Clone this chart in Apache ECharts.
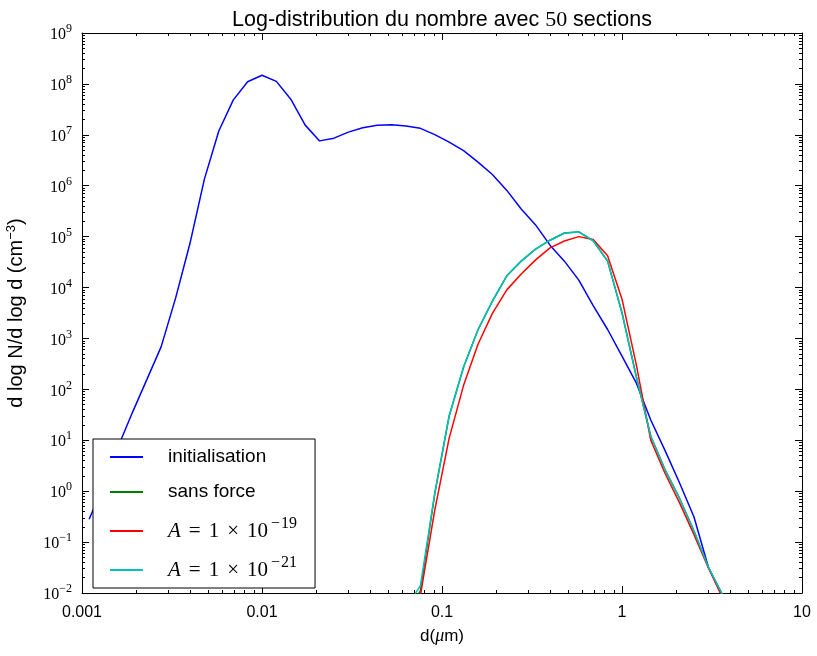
<!DOCTYPE html>
<html>
<head>
<meta charset="utf-8">
<script src="https://cdn.jsdelivr.net/npm/echarts@6/dist/echarts.min.js"></script>
<style>
  html, body { margin: 0; padding: 0; background: #fff; }
  #chart { width: 817px; height: 656px; }
</style>
</head>
<body>
<div id="chart"></div>
<script>
// diametre (um) au centre de chacune des 50 sections
const diam = [
  0.001096, 0.001318, 0.001585, 0.001905, 0.002291, 0.002754, 0.003311, 0.003981, 0.004786, 0.005754,
  0.006918, 0.008318, 0.01, 0.01202, 0.01445, 0.01738, 0.02089, 0.02512, 0.0302, 0.03631,
  0.04365, 0.05248, 0.0631, 0.07586, 0.0912, 0.1096, 0.1318, 0.1585, 0.1905, 0.2291,
  0.2754, 0.3311, 0.3981, 0.4786, 0.5754, 0.6918, 0.8318, 1, 1.202, 1.445,
  1.738, 2.089, 2.512, 3.02, 3.631, 4.365, 5.248, 6.31, 7.586, 9.12
]

const initialisation = [
  0.28, 1.3, 7.4, 35, 155, 690, 6200, 7.4e4, 1.35e6, 1.19e7,
  4.8e7, 1.1e8, 1.48e8, 1.12e8, 5.0e7, 1.55e7, 7.6e6, 8.6e6, 1.13e7, 1.38e7,
  1.54e7, 1.58e7, 1.49e7, 1.34e7, 1.01e7, 7.2e6, 4.9e6, 2.9e6, 1.66e6, 8.1e5,
  3.5e5, 1.7e5, 6.8e4, 3.3e4, 1.4e4, 4400, 1500, 450, 132, 25,
  6.2, 1.45, 0.31, 0.032, 0.008, null, null, null, null, null
]

const sansForce = [
  null, null, null, null, null, null, null, null, null, null,
  null, null, null, null, null, null, null, null, null, null,
  null, null, 0.004, 0.011, 0.91, 30, 275, 1480, 5400, 1.7e4,
  3.3e4, 5.7e4, 8.5e4, 1.18e5, 1.24e5, 8.3e4, 3.3e4, 3200, 175, 12,
  2.6, 0.72, 0.165, 0.032, 0.009, null, null, null, null, null
]

const a19 = [
  null, null, null, null, null, null, null, null, null, null,
  null, null, null, null, null, null, null, null, null, null,
  null, null, 0.002, 0.009, 0.43, 11, 120, 770, 3100, 9000,
  1.85e4, 3.5e4, 6.0e4, 8.2e4, 1.0e5, 8.8e4, 4.2e4, 5900, 300, 10,
  2.2, 0.59, 0.14, 0.031, 0.008, null, null, null, null, null
]

const a21 = [
  null, null, null, null, null, null, null, null, null, null,
  null, null, null, null, null, null, null, null, null, null,
  null, null, 0.005, 0.014, 0.91, 30, 275, 1480, 5400, 1.7e4,
  3.3e4, 5.7e4, 8.5e4, 1.18e5, 1.24e5, 8.3e4, 3.3e4, 3200, 175, 12,
  2.6, 0.72, 0.165, 0.032, 0.009, null, null, null, null, null
]

const xTicks = [0.001, 0.01, 0.1, 1, 10]
const xTickLabels = ['0.001', '0.01', '0.1', '1', '10']
const yExp = [-2, -1, 0, 1, 2, 3, 4, 5, 6, 7, 8, 9]
const yTicks = yExp.map(e => Math.pow(10, e))

// graduations secondaires 2..9 x 10^k
function minors (ticks) {
  const out = []
  for (let k = 0; k < ticks.length - 1; k++) {
    for (let m = 2; m <= 9; m++) out.push(m * ticks[k])
  }
  return out
}
const xMinor = minors(xTicks)
const yMinor = minors(yTicks)

function pairs (ys) {
  const out = []
  ys.forEach((v, i) => { if (v != null) out.push([diam[i], v]) })
  return out
}

const legendNames = {
  initialisation: 'initialisation',
  'sans force': 'sans force',
  a19: '{i|A}{o|=}{r|1}{o|×}{r|10}{m|−}{s|19}',
  a21: '{i|A}{o|=}{r|1}{o|×}{r|10}{m|−}{s|21}'
}

function expStr (e) { return e < 0 ? '−' + (-e) : String(e) }

const serif = 'Liberation Serif'
const sans = 'Liberation Sans'

function logX (extra) {
  return Object.assign({
    type: 'log', logBase: 10, min: 0.001, max: 10, gridIndex: 0,
    splitLine: { show: false },
    axisLine: { show: false, onZero: false }
  }, extra)
}
function logY (extra) {
  return Object.assign({
    type: 'log', logBase: 10, min: 0.01, max: 1e9, gridIndex: 0,
    splitLine: { show: false },
    axisLine: { show: false, onZero: false }
  }, extra)
}
const blackLine = { show: true, onZero: false, lineStyle: { color: '#000', width: 1 } }
const majorTick = (vals) => ({ show: true, inside: true, length: 7, customValues: vals, lineStyle: { color: '#000' } })
const minorTick = (vals) => ({ show: true, inside: true, length: 3, customValues: vals, lineStyle: { color: '#000' } })

const chart = echarts.init(document.getElementById('chart'))
const option = {
  backgroundColor: '#fff',
  animation: false,
  title: {
    text: 'Log-distribution du nombre avec {m|50} sections',
    left: 437,
    textAlign: 'center',
    top: 4,
    textStyle: {
      fontFamily: sans, fontSize: 21.5, fontWeight: 'normal', color: '#000',
      rich: { m: { fontFamily: serif, fontSize: 22, color: '#000' } }
    }
  },
  grid: { left: 82, right: 15, top: 33, bottom: 63, containLabel: false, outerBoundsMode: 'none' },
  legend: {
    data: ['initialisation', 'sans force', 'a19', 'a21'],
    orient: 'vertical',
    left: 93,
    top: 439,
    backgroundColor: '#fff',
    borderColor: '#000',
    borderWidth: 1,
    borderRadius: 0,
    padding: [7, 18, 7, 17],
    itemWidth: 33,
    itemHeight: 2,
    itemGap: 13,
    icon: 'rect',
    formatter: name => legendNames[name],
    textStyle: {
      fontFamily: sans, fontSize: 19, color: '#000', lineHeight: 22,
      padding: [0, 0, 0, 20],
      rich: {
        i: { fontFamily: serif, fontStyle: 'italic', fontSize: 21, color: '#000', verticalAlign: 'bottom' },
        o: { fontFamily: serif, fontSize: 21, color: '#000', verticalAlign: 'bottom', padding: [0, 8, 0, 8] },
        r: { fontFamily: serif, fontSize: 21, color: '#000', verticalAlign: 'bottom' },
        m: { fontFamily: serif, fontSize: 16, color: '#000', verticalAlign: 'bottom', padding: [0, 1, 10, 3] },
        s: { fontFamily: serif, fontSize: 16, color: '#000', verticalAlign: 'bottom', padding: [0, 0, 10, 0] }
      }
    }
  },
  xAxis: [
    logX({
      position: 'bottom',
      axisLine: blackLine,
      axisTick: majorTick(xTicks),
      axisLabel: {
        customValues: xTicks,
        margin: 12,
        color: '#000',
        fontFamily: sans,
        fontSize: 16,
        formatter: v => xTickLabels[Math.round(Math.log10(v)) + 3]
      },
      name: 'd({m|μ}m)',
      nameLocation: 'middle',
      nameGap: 34,
      nameTextStyle: {
        fontFamily: sans, fontSize: 17, color: '#000',
        rich: { m: { fontFamily: serif, fontStyle: 'italic', fontSize: 18, color: '#000' } }
      }
    }),
    logX({ position: 'bottom', axisTick: minorTick(xMinor), axisLabel: { show: false } }),
    logX({ position: 'top', axisLine: blackLine, axisTick: majorTick(xTicks), axisLabel: { show: false } }),
    logX({ position: 'top', axisTick: minorTick(xMinor), axisLabel: { show: false } })
  ],
  yAxis: [
    logY({
      position: 'left',
      axisLine: blackLine,
      axisTick: majorTick(yTicks),
      axisLabel: {
        customValues: yTicks,
        margin: 10,
        color: '#000',
        formatter: v => '{b|10}{e|' + expStr(yExp[Math.round(Math.log10(v)) + 2]) + '}',
        rich: {
          b: { fontFamily: serif, fontSize: 16, color: '#000', verticalAlign: 'bottom' },
          e: { fontFamily: serif, fontSize: 12, color: '#000', verticalAlign: 'bottom', padding: [0, 0, 8, 0] }
        }
      },
      name: 'd log N/d log d (cm{s|−3})',
      nameLocation: 'middle',
      nameGap: 54,
      nameTextStyle: {
        fontFamily: sans, fontSize: 20, color: '#000',
        rich: { s: { fontFamily: sans, fontSize: 13, color: '#000', verticalAlign: 'bottom', padding: [0, 0, 10, 0] } }
      }
    }),
    logY({ position: 'left', axisTick: minorTick(yMinor), axisLabel: { show: false } }),
    logY({ position: 'right', axisLine: blackLine, axisTick: majorTick(yTicks), axisLabel: { show: false } }),
    logY({ position: 'right', axisTick: minorTick(yMinor), axisLabel: { show: false } })
  ],
  series: [
    { name: 'initialisation', type: 'line', data: pairs(initialisation), color: '#0000ff' },
    { name: 'sans force', type: 'line', data: pairs(sansForce), color: '#008000' },
    { name: 'a19', type: 'line', data: pairs(a19), color: '#ff0000' },
    { name: 'a21', type: 'line', data: pairs(a21), color: '#00bfbf' }
  ].map(s => Object.assign(s, {
    xAxisIndex: 0,
    yAxisIndex: 0,
    showSymbol: false,
    symbol: 'none',
    clip: true,
    lineStyle: { width: 1.5, color: s.color },
    itemStyle: { color: s.color },
    emphasis: { disabled: true }
  }))
}
chart.setOption(option)
</script>
</body>
</html>
